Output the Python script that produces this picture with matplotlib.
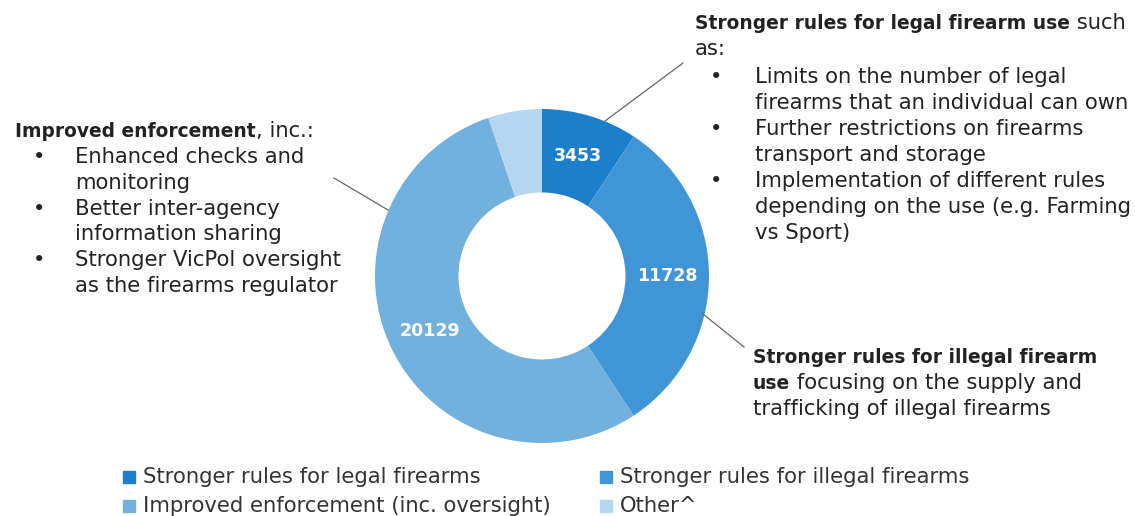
import matplotlib
matplotlib.use("Agg")
import matplotlib.pyplot as plt
from matplotlib.lines import Line2D
from matplotlib.patches import Rectangle
import numpy as np

W, H = 1135, 516

categories = ["Stronger rules for legal firearms",
              "Stronger rules for illegal firearms",
              "Improved enforcement (inc. oversight)",
              "Other^"]
counts = [3453, 11728, 20129, 1940]
show_label = [True, True, True, False]
colors = ["#1b7fcc", "#3f95d6", "#72b0de", "#b5d6ef"]

legal_title = ("Stronger rules for legal firearm use", " such")
legal_points = [["Limits on the number of legal", "firearms that an individual can own"],
                ["Further restrictions on firearms", "transport and storage"],
                ["Implementation of different rules", "depending on the use (e.g. Farming", "vs Sport)"]]
enforce_title = ("Improved enforcement", ", inc.:")
enforce_points = [["Enhanced checks and", "monitoring"],
                  ["Better inter-agency", "information sharing"],
                  ["Stronger VicPol oversight", "as the firearms regulator"]]
illegal_lines = [("Stronger rules for illegal firearm", ""),
                 ("use", " focusing on the supply and"),
                 ("", "trafficking of illegal firearms")]

FS = 15.2      # regular text
FSB = 13.45    # bold runs (DejaVu bold is wide)
TXT = "#222222"


def fx(x):
    return x / W


def fy(y):
    return 1 - y / H


fig = plt.figure(figsize=(W / 100, H / 100), dpi=100)
renderer = fig.canvas.get_renderer()

# donut
cx, cy, r = 542, 276, 167
ax = fig.add_axes([fx(cx - r), fy(cy + r), 2 * r / W, 2 * r / H])
wedges, _ = ax.pie(counts, colors=colors, startangle=90, counterclock=False,
                   radius=1, wedgeprops=dict(width=0.5, linewidth=0))
ax.set_xlim(-1, 1)
ax.set_ylim(-1, 1)
ax.set_aspect("equal")
ax.axis("off")

for w, n, show in zip(wedges, counts, show_label):
    if not show:
        continue
    ang = np.deg2rad((w.theta1 + w.theta2) / 2)
    ax.text(0.75 * np.cos(ang), 0.75 * np.sin(ang), str(n), ha="center", va="center",
            color="white", fontsize=12.5, fontweight="bold")


def rich(x, y, bold, plain):
    """Bold run followed by a regular run on the same baseline."""
    xe = fx(x)
    if bold:
        t = fig.text(xe, fy(y), bold, fontsize=FSB, fontweight="bold", color=TXT,
                     va="baseline", ha="left")
        bb = t.get_window_extent(renderer)
        xe = bb.x1 / W
    if plain:
        fig.text(xe, fy(y), plain, fontsize=FS, color=TXT, va="baseline", ha="left")


def bullets(points, xb, xt, y0, step):
    y = y0
    for pt in points:
        fig.text(fx(xb), fy(y), "•", fontsize=FS, color=TXT, va="baseline", ha="left")
        for line in pt:
            fig.text(fx(xt), fy(y), line, fontsize=FS, color=TXT, va="baseline", ha="left")
            y += step


# legal firearms annotation (top right)
rich(695, 29, *legal_title)
rich(695, 55, "", "as:")
bullets(legal_points, 710, 755, 83, 26)

# enforcement annotation (left)
rich(15, 137, *enforce_title)
bullets(enforce_points, 33, 75, 163, 25.8)

# illegal firearms annotation (bottom right)
for i, (b, p) in enumerate(illegal_lines):
    rich(753, 363 + 26 * i, b, p)

# leader lines
for (x0, y0), (x1, y1) in [((605, 121), (683, 63)),
                           ((388, 210), (334, 178)),
                           ((703, 314), (744, 347))]:
    fig.add_artist(Line2D([fx(x0), fx(x1)], [fy(y0), fy(y1)], color="#666666", lw=0.9))

# legend
for i, (lab, c) in enumerate(zip(categories, colors)):
    col, row = i % 2, i // 2
    x0 = [123, 600][col]
    yc = [477, 506][row]
    fig.add_artist(Rectangle((fx(x0), fy(yc + 6)), 12 / W, 12 / H, color=c,
                             transform=fig.transFigure))
    fig.text(fx(x0 + 20), fy(yc), lab, fontsize=FS, color="#333333", va="center", ha="left")

fig.savefig("out.png", dpi=100)
